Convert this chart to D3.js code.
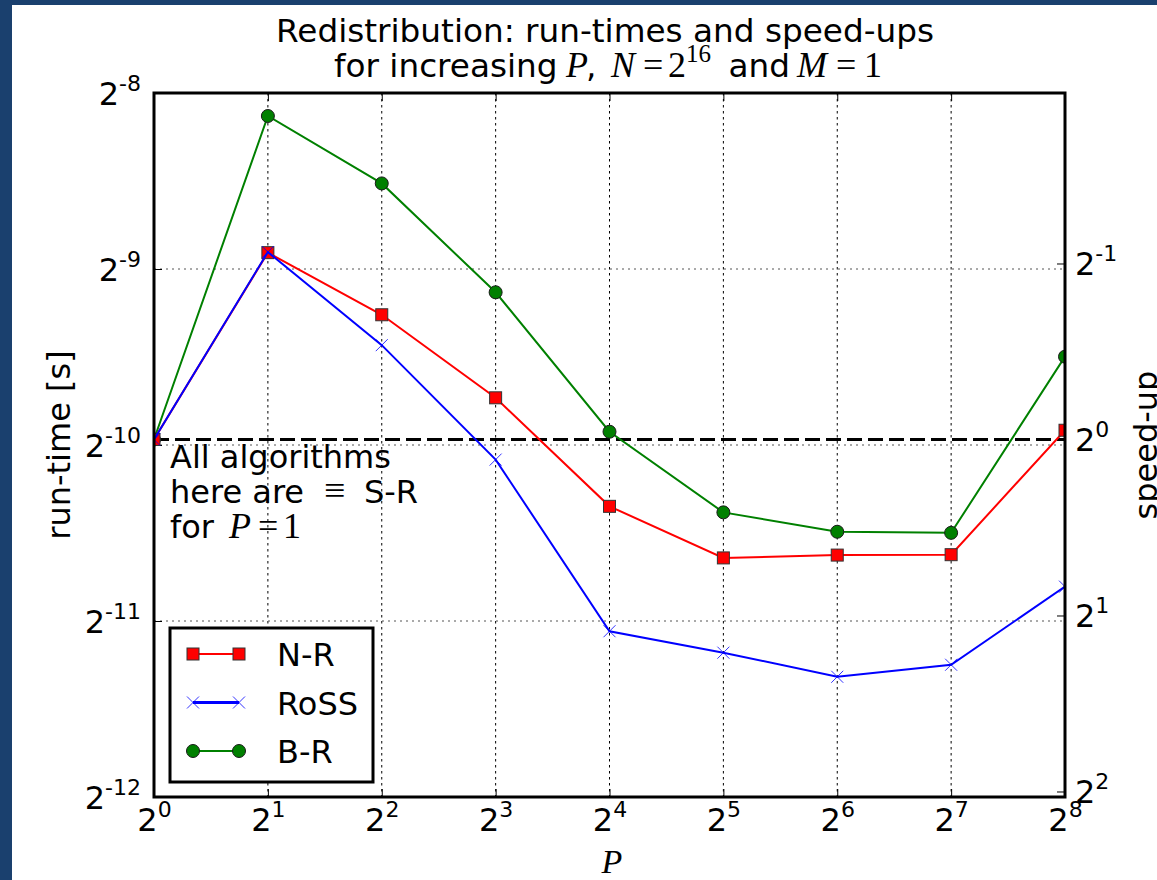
<!DOCTYPE html>
<html>
<head>
<meta charset="utf-8">
<script src="https://cdn.jsdelivr.net/npm/d3@7"></script>
<style>
  html, body { margin: 0; padding: 0; background: #fff; }
  svg { display: block; font-family: "DejaVu Sans", sans-serif; }
</style>
</head>
<body>
<div id="chart"></div>
<script>
// processor counts P and measured run-times [s]
var procs = [1, 2, 4, 8, 16, 32, 64, 128, 256]
var nrTimes   = [0.000998, 0.002083, 0.001631, 0.001176, 0.000767, 0.000626, 0.000633, 0.000634, 0.001035]
var rossTimes = [0.000998, 0.002088, 0.001447, 0.000922, 0.000469, 0.000431, 0.000392, 0.000411, 0.000559]
var brTimes   = [0.000998, 0.003568, 0.002736, 0.001782, 0.001029, 0.000749, 0.000694, 0.000691, 0.001383]

var seriesNames = ["N-R", "RoSS", "B-R"]

// tick exponents (base 2)
var xTickExp = [0, 1, 2, 3, 4, 5, 6, 7, 8]
var yTickExp = [-12, -11, -10, -9, -8]
var speedTickExp = [-1, 0, 1, 2]

var titleLine1 = "Redistribution: run-times and speed-ups"
var noteLines = ["All algorithms", "here are", "S-R", "for"]

const W = 1157, H = 880
const margin = { top: 93, right: 92, bottom: 83, left: 154 }
const width = W - margin.left - margin.right
const height = H - margin.top - margin.bottom

const svg = d3.select("#chart").append("svg")
    .attr("width", W)
    .attr("height", H)

// dark blue frame on the left / top
svg.append("rect").attr("width", W).attr("height", H).attr("fill", "#1a406e")
svg.append("rect").attr("x", 12).attr("y", 5).attr("width", W - 12).attr("height", H - 5).attr("fill", "#fff")

const g = svg.append("g").attr("transform", `translate(${margin.left},${margin.top})`)

const x = d3.scaleLog().base(2).domain([1, 256]).range([0, width])
const y = d3.scaleLog().base(2).domain([Math.pow(2, -12), Math.pow(2, -8)]).range([height, 0])
// speed-up relative to P=1 run-time
const t1 = nrTimes[0]
const y2 = d3.scaleLog().base(2).domain([t1 / Math.pow(2, -12), t1 / Math.pow(2, -8)]).range([height, 0])

const serif = "'Liberation Serif', 'DejaVu Serif', serif"

// grid
g.append("g").selectAll("line")
    .data(procs.slice(1, -1))
    .enter().append("line")
    .attr("x1", d => x(d)).attr("x2", d => x(d))
    .attr("y1", 0).attr("y2", height)
    .attr("stroke", "#000").attr("stroke-width", 1)
    .attr("stroke-dasharray", "2.5,3.5")

g.append("g").selectAll("line")
    .data(yTickExp.slice(1, -1))
    .enter().append("line")
    .attr("x1", 0).attr("x2", width)
    .attr("y1", d => y(Math.pow(2, d))).attr("y2", d => y(Math.pow(2, d)))
    .attr("stroke", "#555").attr("stroke-width", 1)
    .attr("stroke-dasharray", "2,4")

// tick label with superscript
function powLabel(sel, exps) {
    sel.each(function (d, i) {
        const t = d3.select(this)
        t.text(null)
        t.append("tspan").attr("font-size", 32).text("2")
        t.append("tspan").attr("font-size", 22).attr("dy", -14).text(exps[i])
    })
}

const xAxis = g.append("g")
    .attr("transform", `translate(0,${height})`)
    .call(d3.axisBottom(x).tickValues(procs).tickSizeInner(-8).tickSizeOuter(0))
xAxis.select(".domain").remove()
xAxis.selectAll(".tick text").attr("y", 34).attr("dy", 0).attr("fill", "#000")
    .call(powLabel, xTickExp)

const xTop = g.append("g")
    .call(d3.axisTop(x).tickValues(procs).tickSizeInner(-8).tickSizeOuter(0).tickFormat(""))
xTop.select(".domain").remove()

const yAxis = g.append("g")
    .call(d3.axisLeft(y).tickValues(yTickExp.map(e => Math.pow(2, e))).tickSizeInner(-8).tickSizeOuter(0))
yAxis.select(".domain").remove()
yAxis.selectAll(".tick text").attr("x", -13).attr("y", 11).attr("dy", 0)
    .attr("text-anchor", "end").attr("fill", "#000")
    .call(powLabel, yTickExp)

const y2Axis = g.append("g")
    .attr("transform", `translate(${width},0)`)
    .call(d3.axisRight(y2).tickValues(speedTickExp.map(e => Math.pow(2, e))).tickSizeInner(-8).tickSizeOuter(0))
y2Axis.select(".domain").remove()
y2Axis.selectAll(".tick text").attr("x", 10).attr("y", 11).attr("dy", 0)
    .attr("text-anchor", "start").attr("fill", "#000")
    .call(powLabel, speedTickExp)

svg.selectAll(".tick line").attr("stroke", "#000")
svg.selectAll(".tick text").attr("font-family", "DejaVu Sans")

// clip to plot area
svg.append("defs").append("clipPath").attr("id", "plotclip")
    .append("rect").attr("width", width).attr("height", height)

const plot = g.append("g").attr("clip-path", "url(#plotclip)")

// P=1 reference (speed-up = 1)
plot.append("line")
    .attr("x1", 0).attr("x2", width)
    .attr("y1", y(t1)).attr("y2", y(t1))
    .attr("stroke", "#000").attr("stroke-width", 3)
    .attr("stroke-dasharray", "15,6")

const line = d3.line()
    .x((d, i) => x(procs[i]))
    .y(d => y(d))

function drawSquare(sel, cx, cy) {
    sel.append("rect")
        .attr("x", cx - 6).attr("y", cy - 6)
        .attr("width", 12).attr("height", 12)
        .attr("fill", "#ff0000").attr("stroke", "#333").attr("stroke-width", 1)
}
function drawCross(sel, cx, cy) {
    sel.append("path")
        .attr("d", `M${cx - 6},${cy - 6}L${cx + 6},${cy + 6}M${cx - 6},${cy + 6}L${cx + 6},${cy - 6}`)
        .attr("stroke", "#0000ff").attr("stroke-width", 1).attr("opacity", 0.8)
        .attr("fill", "none")
}
function drawDot(sel, cx, cy) {
    sel.append("circle")
        .attr("cx", cx).attr("cy", cy).attr("r", 6.5)
        .attr("fill", "#008000").attr("stroke", "#1a1a1a").attr("stroke-width", 1)
}

const series = [
    { name: seriesNames[0], values: nrTimes, color: "#ff0000", marker: drawSquare },
    { name: seriesNames[1], values: rossTimes, color: "#0000ff", marker: drawCross },
    { name: seriesNames[2], values: brTimes, color: "#008000", marker: drawDot }
]

// draw B-R first so the red/blue sit on top like in the original
;[series[2], series[0], series[1]].forEach(s => {
    plot.append("path")
        .datum(s.values)
        .attr("fill", "none")
        .attr("stroke", s.color)
        .attr("stroke-width", 2)
        .attr("d", line)
    const mg = plot.append("g")
    s.values.forEach((v, i) => s.marker(mg, x(procs[i]), y(v)))
})

// frame
g.append("rect")
    .attr("width", width).attr("height", height)
    .attr("fill", "none").attr("stroke", "#000").attr("stroke-width", 3)

// math-ish pieces (serif, like mathtext)
function mathSpan(t, txt, xpos, italic, size) {
    const s = t.append("tspan").attr("font-family", serif).attr("font-size", size || 36).text(txt)
    if (xpos != null) s.attr("x", xpos)
    if (italic) s.attr("font-style", "italic")
    return s
}

// note text
const note = svg.append("g").attr("font-size", 32).attr("fill", "#000")
note.append("text").attr("x", 170).attr("y", 468).text(noteLines[0])
const n2 = note.append("text").attr("x", 170).attr("y", 503)
n2.append("tspan").text(noteLines[1])
mathSpan(n2, "\u2261", 324, false, 38)
n2.append("tspan").attr("x", 364).text(noteLines[2])
const n3 = note.append("text").attr("x", 170).attr("y", 538)
n3.append("tspan").text(noteLines[3])
mathSpan(n3, "P", 229, true)
mathSpan(n3, "=", 258, false)
mathSpan(n3, "1", 283, false)

// legend
const leg = g.append("g").attr("transform", `translate(${170 - margin.left},${628 - margin.top})`)
leg.append("rect")
    .attr("width", 203).attr("height", 154)
    .attr("fill", "#fff").attr("stroke", "#000").attr("stroke-width", 3)
series.forEach((s, i) => {
    const cy = 26 + i * 48.5
    leg.append("line")
        .attr("x1", 23).attr("x2", 69).attr("y1", cy).attr("y2", cy)
        .attr("stroke", s.color).attr("stroke-width", i === 1 ? 3 : 2)
    s.marker(leg, 23, cy)
    s.marker(leg, 69, cy)
    leg.append("text")
        .attr("x", 107).attr("y", cy + 12)
        .attr("font-size", 32)
        .text(s.name)
})

// title
svg.append("text")
    .attr("x", 605).attr("y", 42)
    .attr("text-anchor", "middle").attr("font-size", 32.7)
    .text(titleLine1)
const t2 = svg.append("text")
    .attr("x", 334).attr("y", 77)
    .attr("font-size", 32.7)
t2.append("tspan").text("for increasing")
mathSpan(t2, "P", 566, true)
t2.append("tspan").attr("x", 586).text(",")
mathSpan(t2, "N", 611, true)
mathSpan(t2, "=", 643, false)
mathSpan(t2, "2", 668, false)
mathSpan(t2, "16", 686, false, 25).attr("dy", -15)
t2.append("tspan").attr("x", 718).attr("dy", 15).text(" and")
mathSpan(t2, "M", 797, true)
mathSpan(t2, "=", 836, false)
mathSpan(t2, "1", 864, false)

// axis labels
svg.append("text")
    .attr("x", 612).attr("y", 873)
    .attr("text-anchor", "middle")
    .attr("font-family", serif).attr("font-style", "italic").attr("font-size", 34)
    .text("P")

svg.append("text")
    .attr("transform", `translate(70,${margin.top + height / 2}) rotate(-90)`)
    .attr("text-anchor", "middle").attr("font-size", 32)
    .text("run-time [s]")

svg.append("text")
    .attr("transform", `translate(1157,${margin.top + height / 2}) rotate(-90)`)
    .attr("text-anchor", "middle").attr("font-size", 32)
    .text("speed-up")
</script>
</body>
</html>
